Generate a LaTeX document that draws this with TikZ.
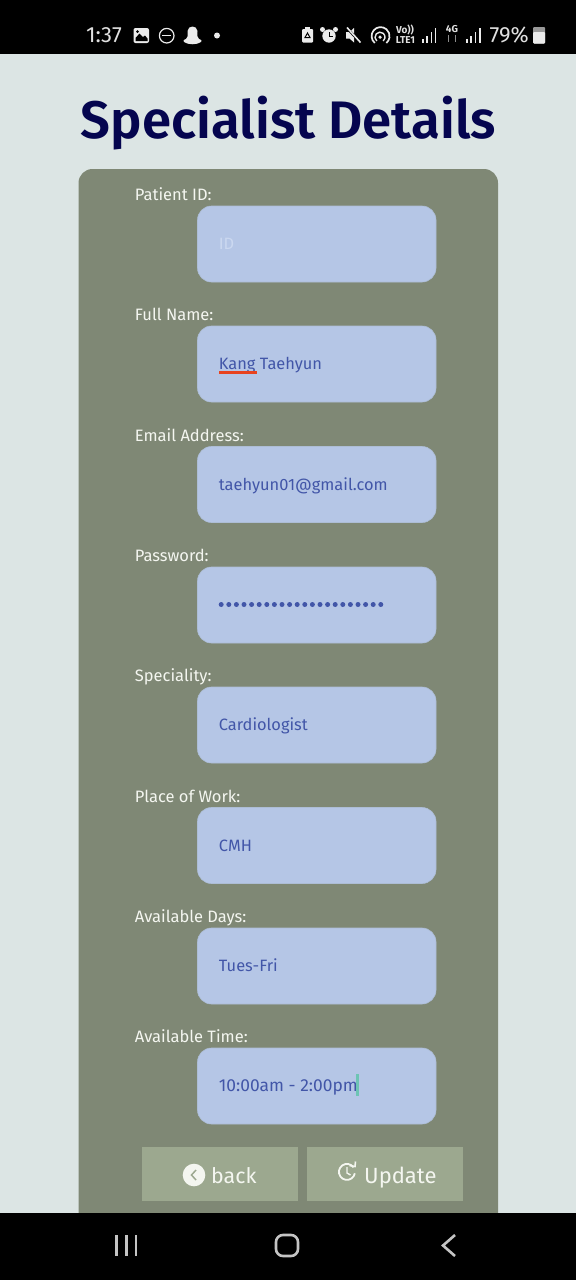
\documentclass[tikz,border=0pt]{standalone}
\usepackage{fontspec}
\setmainfont{Fira Sans}
\newfontfamily\titlefont{Fira Sans SemiBold}
\definecolor{pagebg}{HTML}{DCE5E4}
\definecolor{panelc}{HTML}{7F8875}
\definecolor{fieldc}{HTML}{B5C6E6}
\definecolor{fieldtxt}{HTML}{4256A8}
\definecolor{hintc}{HTML}{CBD8F0}
\definecolor{btnc}{HTML}{9CA88F}
\definecolor{titlec}{HTML}{05054F}
\definecolor{redline}{HTML}{E8431F}
\definecolor{caretc}{HTML}{6DC4B4}
\definecolor{navc}{HTML}{C4C4C4}
\definecolor{labelc}{HTML}{F4F6F0}
\tikzset{
  x=1pt,y=-1pt,
  field/.style={rounded corners=14pt,fill=fieldc,draw=fieldc!85!panelc,line width=0.6pt},
  lab/.style={anchor=base west,text=labelc,font=\fontsize{16.5}{18}\selectfont,inner sep=0pt},
  val/.style={anchor=base west,text=fieldtxt,font=\fontsize{16.4}{18}\selectfont,inner sep=0pt},
  btn/.style={fill=btnc,draw=none},
  btntxt/.style={anchor=base west,text=labelc,font=\fontsize{22}{26}\selectfont,inner sep=0pt},
  stat/.style={anchor=base west,text=white!88!black,inner sep=0pt},
  ico/.style={fill=white!92!black,draw=none},
  icol/.style={draw=white!92!black,fill=none,line width=1.2pt},
  nav/.style={draw=navc,line width=2.6pt,fill=none},
}
\newcommand{\formrow}[3]{%
  \node[lab] (lab#1) at (134.7,#2-5.1) {#3};
  \path[field] (197.5,#2) rectangle (436,#2+76);
  \coordinate (fld#1) at (218.7,#2+43.8);
}
\begin{document}
\begin{tikzpicture}
\useasboundingbox (0,0) rectangle (576,1280);
\fill[pagebg] (0,0) rectangle (576,1280);
% panel
\fill[panelc,rounded corners=14pt] (78.5,169) rectangle (498,1240);
% title
\node[anchor=base,text=titlec,font=\fontsize{52.8}{56}\selectfont\titlefont,inner sep=0pt] (title) at (288.5,138) {Specialist Details};
% fields
\formrow{a}{206}{Patient ID:}
\formrow{b}{326}{Full Name:}
\formrow{c}{446.5}{Email Address:}
\formrow{d}{567}{Password:}
\formrow{e}{687}{Speciality:}
\formrow{f}{807.5}{Place of Work:}
\formrow{g}{928}{Available Days:}
\formrow{h}{1048}{Available Time:}
\node[val,text=hintc] (vala) at (flda) {ID};
\node[val] (valb) at (fldb) {Kang Taehyun};
\draw[redline,line width=2.4pt] (219,372.5) -- (257,372.5);
\node[val] (valc) at (fldc) {taehyun01@gmail.com};
\foreach \i in {0,...,21}{\fill[fieldtxt] (221.2+7.6*\i,604.5) circle (2.5pt);}
\node[val] (vale) at (flde) {Cardiologist};
\node[val] (valf) at (fldf) {CMH};
\node[val] (valg) at (fldg) {Tues-Fri};
\node[val,font=\fontsize{17.4}{18}\selectfont] (valh) at (fldh) {10:00am - 2:00pm};
\draw[caretc,line width=2.4pt] (357.5,1074) -- (357.5,1096);
% buttons
\fill[btn] (141.5,1147) rectangle (298,1201);
\fill[btn] (306.5,1147) rectangle (463,1201);
\fill[labelc] (194,1175) circle (11.3pt);
\draw[btnc,line width=1.5pt] (196,1170) -- (191.5,1175) -- (196,1180);
\node[btntxt,font=\fontsize{21.4}{26}\selectfont] (backt) at (211,1183.5) {back};
\draw[labelc,line width=1.8pt] (353.5,1167.3) arc[start angle=35,end angle=350,radius=8pt];
\draw[labelc,line width=1.4pt] (347,1167) -- (347,1173) -- (350.5,1175);
\draw[labelc,line width=1.6pt] (349.5,1165.5) -- (355,1166.5) -- (355.5,1161.5);
\node[btntxt] (updt) at (364,1183.5) {Update};
% status bar
\fill[black] (0,0) rectangle (576,54);
\node[stat,font=\fontsize{22}{22}\selectfont] (clock) at (86,42.5) {1:37};
% image icon
\fill[ico,rounded corners=2pt] (133.5,28) rectangle (149,43);
\fill[black] (135.5,38) -- (139.5,33.5) -- (143,37) -- (145,35.5) -- (147.5,38.5) -- (147.5,41) -- (135.5,41) -- cycle;
\fill[black] (137.5,31.5) circle (1.5pt);
% dnd
\draw[icol] (166.7,35.7) circle (7.3pt);
\draw[icol] (162,35.7) -- (171.4,35.7);
% snapchat
\fill[ico] (184,42) .. controls (183,41) and (183,40) .. (186,39) .. controls (188,38) and (187.5,36) .. (187.5,31) .. controls (188,25) and (197,25) .. (197.5,31) .. controls (197.5,36) and (197,38) .. (199,39) .. controls (202,40) and (202,41) .. (201,42) .. controls (197,45) and (188,45) .. (184,42) -- cycle;
\fill[ico] (217,35.5) circle (3pt);
% right icons
\fill[ico,rounded corners=1pt] (302,29) rectangle (313,42.5);
\fill[ico] (305,27) rectangle (310,30);
\draw[black,line width=1pt] (305,37.5) -- (307.5,33) -- (310,37.5) -- cycle;
\fill[ico] (329,36) circle (6.7pt);
\fill[ico] (322.5,29.5) circle (2.5pt);
\fill[ico] (335.5,29.5) circle (2.5pt);
\draw[black,line width=1pt] (329,32) -- (329,36.5) -- (332.5,36.5);
\fill[ico] (346,32) -- (349.5,32) -- (354,28) -- (354,42.5) -- (349.5,38.5) -- (346,38.5) -- cycle;
\draw[black,line width=2.6pt] (346,27) -- (361,43);
\draw[white!92!black,line width=1.6pt] (347,27.5) -- (360.5,42.5);
\draw[icol,line width=1.7pt] (374.8,43) arc[start angle=230,end angle=-50,radius=9pt];
\draw[icol,line width=1.4pt] (376.8,41) arc[start angle=230,end angle=-50,radius=5pt];
\fill[ico] (380,37.2) circle (1.8pt);
\node[stat,font=\fontsize{10}{10}\selectfont\bfseries,anchor=center] (volte1) at (405,30) {Vo))};
\node[stat,font=\fontsize{10}{10}\selectfont\bfseries,anchor=center] (volte2) at (405.5,40) {LTE1};
\foreach \xx/\yy in {423/39,427/36,431.5/32,435.5/28}{\fill[ico] (\xx-1,\yy) rectangle (\xx+0.7,42.5);}
\node[stat,font=\fontsize{10}{10}\selectfont\bfseries,anchor=center] (netg) at (452,29.5) {4G};
\draw[white!55!black,line width=1pt] (448.5,35) -- (448.5,42);
\draw[white!55!black,line width=1pt] (455,35) -- (455,42);
\foreach \xx/\yy in {467/39,471/36,475.5/32,480/28}{\fill[ico] (\xx-1,\yy) rectangle (\xx+0.7,42.5);}
\node[stat,font=\fontsize{22}{22}\selectfont] (batt) at (489.5,42.5) {79\%};
\fill[white!60!black,rounded corners=1pt] (533,27) rectangle (545,43.5);
\fill[ico,rounded corners=1pt] (533,32) rectangle (545,43.5);
% nav bar
\fill[black] (0,1213) rectangle (576,1280);
\draw[nav] (116.5,1235) -- (116.5,1256);
\draw[nav] (126.5,1235) -- (126.5,1256);
\draw[nav] (136,1235) -- (136,1256);
\draw[nav,rounded corners=7pt] (276,1235) rectangle (298,1256);
\draw[nav] (455,1235) -- (443,1245.5) -- (455,1256);
\end{tikzpicture}
\end{document}
